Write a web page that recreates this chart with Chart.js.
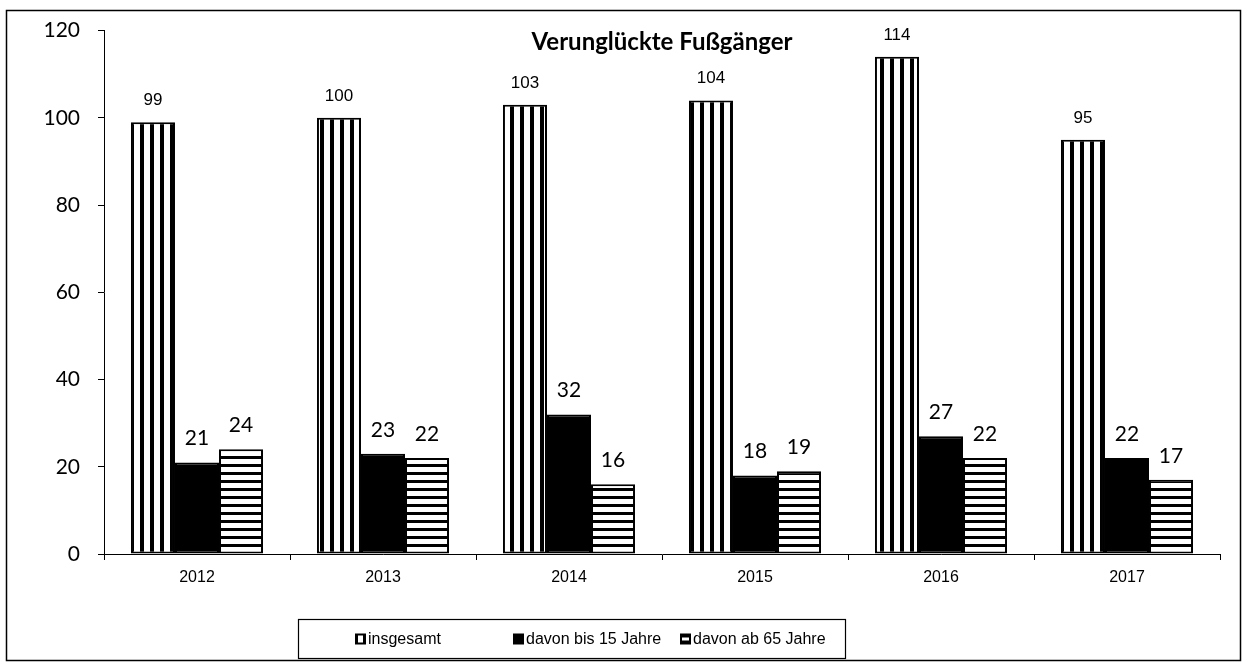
<!DOCTYPE html>
<html>
<head>
<meta charset="utf-8">
<script src="https://cdn.jsdelivr.net/npm/chart.js@4/dist/chart.umd.min.js"></script>
<style>
  html, body { margin: 0; padding: 0; background: #fff; }
  #wrap { width: 1247px; height: 669px; position: relative; }
</style>
</head>
<body>
<div id="wrap"><canvas id="c" width="1247" height="669"></canvas></div>
<script>
// ---- data ----
const categories = ['2012', '2013', '2014', '2015', '2016', '2017'];
const insgesamt = [99, 100, 103, 104, 114, 95];
const bis15 = [21, 23, 32, 18, 27, 22];
const ab65 = [24, 22, 16, 19, 22, 17];
const seriesNames = ['insgesamt', 'davon bis 15 Jahre', 'davon ab 65 Jahre'];
const yTicks = [0, 20, 40, 60, 80, 100, 120];
const chartTitle = 'Verunglückte Fußgänger';

// ---- patterns ----
function makePattern(w, h, draw) {
  const c = document.createElement('canvas');
  c.width = w; c.height = h;
  const g = c.getContext('2d');
  g.fillStyle = '#fff'; g.fillRect(0, 0, w, h);
  g.fillStyle = '#000';
  draw(g);
  return document.getElementById('c').getContext('2d').createPattern(c, 'repeat');
}
const vStripes = makePattern(10, 10, g => g.fillRect(0, 0, 4, 10));
const hStripes = makePattern(8, 8, g => g.fillRect(0, 0, 8, 3));

const CALIBRI = 'Lato';
const ARIAL = '"Liberation Sans", Arial, sans-serif';

const valueLabels = {
  id: 'valueLabels',
  afterDatasetsDraw(chart) {
    const ctx = chart.ctx;
    ctx.save();
    ctx.fillStyle = '#000';
    ctx.textAlign = 'center';
    ctx.textBaseline = 'alphabetic';
    chart.data.datasets.forEach((ds, di) => {
      const meta = chart.getDatasetMeta(di);
      meta.data.forEach((el, i) => {
        if (di === 0) {
          ctx.font = '17px ' + ARIAL;
          ctx.fillText(String(ds.data[i]), el.x, el.y - 17);
        } else {
          ctx.font = '21px ' + CALIBRI;
          ctx.fillText(String(ds.data[i]), el.x, el.y - 17);
        }
      });
    });
    ctx.restore();
  }
};

const decor = {
  id: 'decor',
  afterDraw(chart) {
    const ctx = chart.ctx;
    const ca = chart.chartArea;
    ctx.save();
    // outer frame
    ctx.strokeStyle = '#000';
    ctx.lineWidth = 1.5;
    ctx.strokeRect(6.5, 10.5, 1234, 650);
    // title
    ctx.fillStyle = '#000';
    ctx.font = 'bold 24px ' + CALIBRI;
    ctx.textAlign = 'center';
    ctx.textBaseline = 'middle';
    ctx.fillText(chartTitle, (ca.left + ca.right) / 2, 42);
    // legend
    const lx = 298, ly = 619, lw = 547, lh = 39;
    ctx.lineWidth = 1.2;
    ctx.strokeRect(lx + 0.5, ly + 0.5, lw, lh);
    const cy = ly + lh / 2;
    const markX = [355, 513, 680];
    ctx.font = '16px ' + ARIAL;
    ctx.textAlign = 'left';
    ctx.textBaseline = 'middle';
    seriesNames.forEach((name, k) => {
      const mx = markX[k], my = cy - 5;
      ctx.fillStyle = '#000';
      ctx.fillRect(mx, my, 11, 11);
      ctx.fillStyle = '#fff';
      if (k === 0) ctx.fillRect(mx + 3, my + 2, 5, 7);
      if (k === 2) ctx.fillRect(mx + 2, my + 4, 7, 3);
      ctx.fillStyle = '#000';
      ctx.fillText(name, mx + 13, cy + 1);
    });
    ctx.restore();
  }
};

new Chart(document.getElementById('c'), {
  type: 'bar',
  data: {
    labels: categories,
    datasets: [
      { label: seriesNames[0], data: insgesamt, backgroundColor: vStripes, borderColor: '#000', borderWidth: 2, borderSkipped: false },
      { label: seriesNames[1], data: bis15, backgroundColor: '#000', borderColor: '#000', borderWidth: 2, borderSkipped: false },
      { label: seriesNames[2], data: ab65, backgroundColor: hStripes, borderColor: '#000', borderWidth: 2, borderSkipped: false }
    ]
  },
  options: {
    responsive: false,
    animation: false,
    devicePixelRatio: 1,
    layout: { padding: { left: 0, right: 27, top: 30, bottom: 85 } },
    datasets: { bar: { categoryPercentage: 0.71, barPercentage: 1.0 } },
    plugins: {
      legend: { display: false },
      title: { display: false },
      tooltip: { enabled: false }
    },
    scales: {
      x: {
        grid: { display: true, drawOnChartArea: false, offset: true, tickLength: 6, color: '#000', lineWidth: 1 },
        border: { display: true, color: '#000', width: 1 },
        ticks: { color: '#000', font: { family: ARIAL, size: 16 }, padding: 8 },
        afterFit(scale) { scale.height = 30; }
      },
      y: {
        min: 0, max: 120,
        afterBuildTicks(scale) { scale.ticks = yTicks.map(v => ({ value: v })); },
        grid: { display: true, drawOnChartArea: false, tickLength: 6, color: '#000', lineWidth: 1 },
        border: { display: true, color: '#000', width: 1 },
        ticks: { color: '#000', font: { family: CALIBRI, size: 21 }, padding: 18 },
        afterFit(scale) { scale.width = 104; }
      }
    }
  },
  plugins: [valueLabels, decor]
});
</script>
</body>
</html>
